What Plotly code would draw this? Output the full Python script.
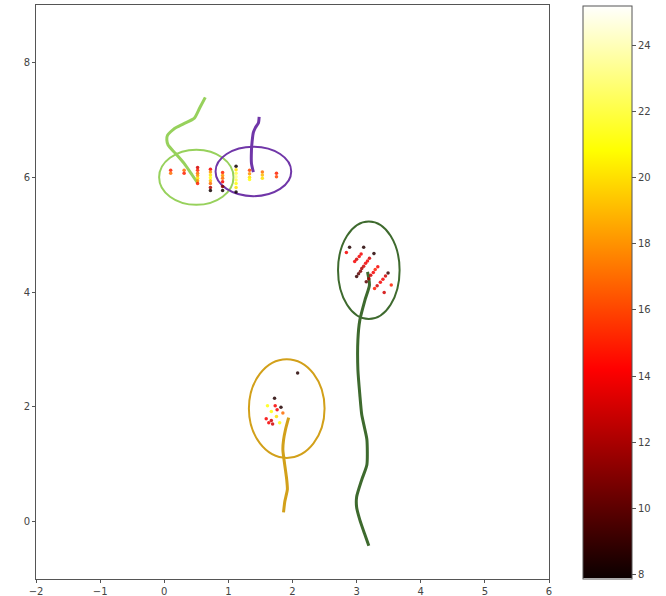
import plotly.graph_objects as go

# ---------------- data ----------------
# trajectories
traj_lightgreen_x = [0.64, 0.55, 0.47, 0.30, 0.16, 0.05, 0.04, 0.06, 0.17, 0.31, 0.44, 0.52]
traj_lightgreen_y = [7.39, 7.20, 7.03, 6.93, 6.85, 6.73, 6.65, 6.56, 6.42, 6.24, 6.03, 5.90]

traj_purple_x = [1.48, 1.47, 1.42, 1.39, 1.37, 1.36, 1.36, 1.39]
traj_purple_y = [7.05, 6.95, 6.86, 6.78, 6.62, 6.47, 6.24, 6.09]

traj_darkgreen_x = [3.19, 3.12, 3.05, 3.00, 3.00, 3.08, 3.16, 3.16, 3.12, 3.08, 3.05, 3.02, 3.02, 3.05, 3.13, 3.20, 3.17]
traj_darkgreen_y = [-0.42, -0.20, 0.03, 0.25, 0.43, 0.73, 0.99, 1.43, 1.65, 1.86, 2.21, 2.64, 3.17, 3.51, 3.86, 4.12, 4.35]

traj_gold_x = [1.86, 1.88, 1.92, 1.91, 1.89, 1.85, 1.86, 1.89, 1.94]
traj_gold_y = [0.16, 0.35, 0.56, 0.73, 0.90, 1.25, 1.42, 1.60, 1.81]

# ellipses: centre x, centre y, half-width, half-height
ell_names = ["lightgreen", "purple", "darkgreen", "gold"]
ell_cx = [0.50, 1.39, 3.19, 1.91]
ell_cy = [6.00, 6.10, 4.38, 1.97]
ell_rx = [0.58, 0.59, 0.48, 0.59]
ell_ry = [0.48, 0.43, 0.85, 0.86]
ell_colors = ["#97d15c", "#7036a8", "#3e6a2e", "#d2a01a"]

# scattered detections (x, y, value)
pts_x = [
    # top-left cluster
    0.10, 0.10,
    0.31, 0.31,
    0.52, 0.52, 0.52, 0.52, 0.52, 0.52, 0.52,
    0.72, 0.72, 0.72, 0.72, 0.72, 0.72, 0.72, 0.72,
    0.91, 0.91, 0.91, 0.91, 0.91, 0.91,
    1.12, 1.12, 1.12, 1.12, 1.12, 1.12, 1.12, 1.12,
    1.33, 1.33, 1.33, 1.33,
    1.53, 1.53, 1.53,
    1.75, 1.75,
    # right cluster
    2.89, 3.11, 2.84, 3.27,
    3.07, 3.04, 3.00, 2.97,
    3.20, 3.17, 3.14, 3.11, 3.08, 3.06, 3.03, 3.00,
    3.33, 3.29, 3.26, 3.22, 3.19, 3.15,
    3.49, 3.45, 3.41, 3.37, 3.32, 3.28,
    3.54, 3.43,
    # bottom cluster
    2.08, 1.72,
    1.61, 1.73, 1.82, 1.76, 1.85, 1.67, 1.59, 1.67, 1.63, 1.69, 1.80, 1.75,
]
pts_y = [
    6.12, 6.07,
    6.12, 6.07,
    6.17, 6.12, 6.07, 6.03, 5.98, 5.94, 5.89,
    6.14, 6.09, 6.04, 5.99, 5.94, 5.89, 5.82, 5.77,
    6.08, 6.03, 5.98, 5.92, 5.84, 5.77,
    6.19, 6.13, 6.07, 6.01, 5.95, 5.89, 5.82, 5.74,
    6.12, 6.06, 6.00, 5.96,
    6.09, 6.04, 5.98,
    6.07, 6.01,
    4.78, 4.78, 4.69, 4.67,
    4.66, 4.62, 4.57, 4.53,
    4.59, 4.54, 4.50, 4.45, 4.41, 4.36, 4.32, 4.27,
    4.44, 4.39, 4.34, 4.29, 4.23, 4.18,
    4.33, 4.28, 4.22, 4.17, 4.11, 4.06,
    4.12, 3.99,
    2.59, 2.15,
    2.02, 2.02, 1.99, 1.95, 1.89, 1.92, 1.79, 1.76, 1.72, 1.70, 1.72, 1.83,
]
pts_val = [
    15, 17,
    17, 15,
    13, 15, 17, 18, 20, 18, 15,
    14, 18, 20, 21, 19, 17, 12, 8,
    15, 18, 17, 14, 11, 8,
    8, 20, 22, 23, 22, 21, 20, 8,
    16, 18, 20, 21,
    17, 19, 20,
    15, 16,
    8.5, 8.5, 14, 8.5,
    14, 14, 13, 14,
    13, 14, 14, 13, 12, 11, 10, 9,
    14, 15, 14, 13, 12, 10,
    9, 13, 14, 14, 13, 15,
    15, 13,
    8.5, 8.5,
    21, 14, 8.5, 14, 17, 21, 14, 13, 14, 13, 21, 20,
]

cbar_min = 7.88
cbar_max = 25.2
cbar_ticks = [8, 10, 12, 14, 16, 18, 20, 22, 24]

x_ticks = [-2, -1, 0, 1, 2, 3, 4, 5, 6]
y_ticks = [0, 2, 4, 6, 8]

# matplotlib "hot" colormap
hot_scale = [
    [0.0, "rgb(11,0,0)"],
    [0.365, "rgb(255,0,0)"],
    [0.746, "rgb(255,255,0)"],
    [1.0, "rgb(255,255,255)"],
]

# ---------------- figure ----------------
fig = go.Figure()

trajs = [
    (traj_lightgreen_x, traj_lightgreen_y, ell_colors[0]),
    (traj_purple_x, traj_purple_y, ell_colors[1]),
    (traj_darkgreen_x, traj_darkgreen_y, ell_colors[2]),
    (traj_gold_x, traj_gold_y, ell_colors[3]),
]
for tx, ty, col in trajs:
    fig.add_trace(go.Scatter(x=tx, y=ty, mode="lines",
                             line=dict(color=col, width=3, shape="spline", smoothing=0.6),
                             showlegend=False, hoverinfo="skip"))

for cx, cy, rx, ry, col in zip(ell_cx, ell_cy, ell_rx, ell_ry, ell_colors):
    fig.add_shape(type="circle", xref="x", yref="y",
                  x0=cx - rx, x1=cx + rx, y0=cy - ry, y1=cy + ry,
                  line=dict(color=col, width=2), layer="below")

fig.add_trace(go.Scatter(
    x=pts_x, y=pts_y, mode="markers",
    marker=dict(size=3.5, color=pts_val, colorscale=hot_scale, opacity=0.85,
                cmin=cbar_min, cmax=cbar_max, line=dict(width=0),
                colorbar=dict(
                    x=1.066, xanchor="left", y=0.5, yanchor="middle",
                    lenmode="pixels", len=573, thickness=49,
                    thicknessmode="pixels",
                    outlinecolor="#555", outlinewidth=1,
                    tickvals=cbar_ticks, ticks="outside", ticklen=4,
                    tickcolor="#555", tickwidth=1,
                    tickfont=dict(family="DejaVu Sans", size=10, color="#444"),
                    xpad=0, ypad=0,
                )),
    showlegend=False,
))

axis_common = dict(showgrid=False, zeroline=False, showline=True, linecolor="#555",
                   linewidth=1, mirror=True, ticks="outside", ticklen=3,
                   tickcolor="#555", tickfont=dict(family="DejaVu Sans", size=10, color="#444"))

fig.update_xaxes(range=[-2, 6], tickvals=x_ticks, **axis_common)
fig.update_yaxes(range=[-1, 9], tickvals=y_ticks, **axis_common)

fig.update_layout(
    width=666, height=596,
    margin=dict(l=36, r=117, t=5, b=17, autoexpand=False),
    plot_bgcolor="white", paper_bgcolor="white",
)

fig.write_html("out.html", config={"displayModeBar": False},
               post_script="document.body.style.margin='0';document.body.style.overflow='hidden';")
